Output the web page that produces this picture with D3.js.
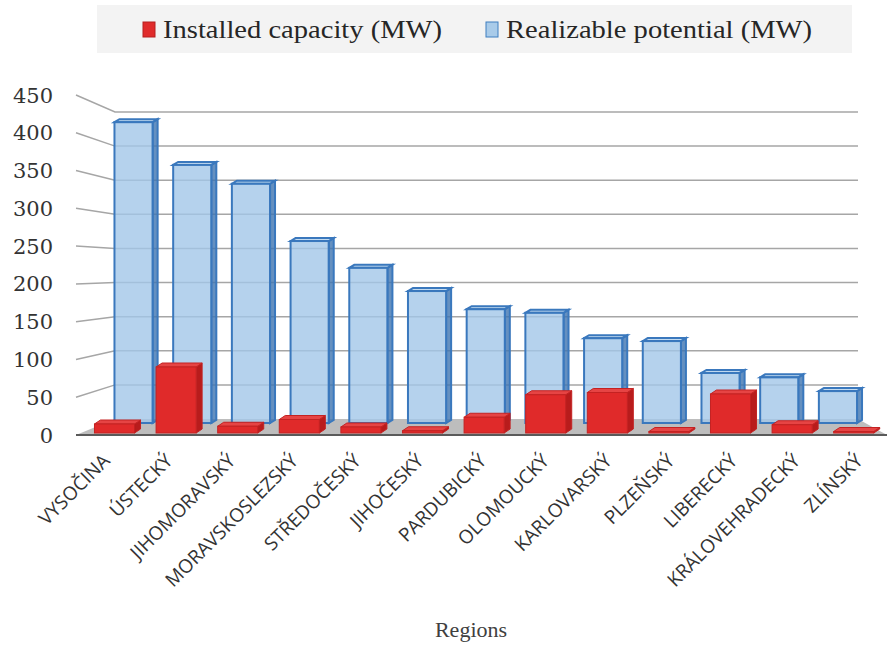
<!DOCTYPE html>
<html><head><meta charset="utf-8">
<script src="https://cdn.jsdelivr.net/npm/d3@7"></script>
<style>body{margin:0;background:#fff}svg{display:block}</style>
</head><body>
<svg id="c" width="888" height="648"></svg>
<script>
const categories = ["VYSOČINA","ÚSTECKÝ","JIHOMORAVSKÝ","MORAVSKOSLEZSKÝ","STŘEDOČESKÝ","JIHOČESKÝ","PARDUBICKÝ","OLOMOUCKÝ","KARLOVARSKÝ","PLZEŇSKÝ","LIBERECKÝ","KRÁLOVEHRADECKÝ","ZLÍNSKÝ"];
const installed = [12, 88, 9, 18, 8, 3, 21, 51, 54, 2, 52, 11, 2];
const potential = [415, 356, 330, 251, 214, 182, 157, 152, 117, 113, 69, 63, 44];
const yTicks = [0, 50, 100, 150, 200, 250, 300, 350, 400, 450];
const seriesNames = ["Installed capacity (MW)", "Realizable potential (MW)"];
const axisTitle = "Regions";

const svg = d3.select("#c");
// depth planes
const yBack = d3.scaleLinear().domain([0, 450]).range([419, 112]);
const yFront = d3.scaleLinear().domain([0, 450]).range([435, 95]);
const yBlue = d3.scaleLinear().domain([0, 450]).range([423, 423 - 450 * 0.725]);
const yRed = d3.scaleLinear().domain([0, 450]).range([433, 433 - 450 * 0.75]);
const xBlue = d3.scaleBand().domain(categories).range([104.2, 867.3]).paddingInner(0.35).paddingOuter(0.175);
const xRed = d3.scaleBand().domain(categories).range([83.7, 884.5]).paddingInner(0.35).paddingOuter(0.175);
const xLab = d3.scaleBand().domain(categories).range([79.6, 895.4]);
const backL = 115, backR = 858, frontL = 76, frontR = 887;

// legend
const lg = svg.append("g");
lg.append("rect").attr("x", 97).attr("y", 5).attr("width", 755).attr("height", 48).attr("fill", "#f3f3f3");
const legendItems = [
  {name: seriesNames[0], sx: 143, tx: 163, len: 279, fill: "#e02b2b", stroke: "#b52020"},
  {name: seriesNames[1], sx: 486, tx: 506, len: 306, fill: "#a9cbe9", stroke: "#3f7fc0"}
];
legendItems.forEach(d => {
  lg.append("rect").attr("x", d.sx).attr("y", 22).attr("width", 12).attr("height", 15)
    .attr("fill", d.fill).attr("stroke", d.stroke).attr("stroke-width", 1);
  lg.append("text").attr("x", d.tx).attr("y", 38).text(d.name)
    .attr("font-family", "Liberation Serif").attr("font-size", 25).attr("fill", "#262626")
    .attr("textLength", d.len).attr("lengthAdjust", "spacingAndGlyphs");
});

// gridlines (back wall + side wall)
const grid = svg.append("g").attr("stroke", "#a6a6a6").attr("stroke-width", 1.5).attr("fill", "none");
yTicks.filter(v => v > 0).forEach(v => {
  grid.append("path").attr("d", `M${frontL},${yFront(v)}L${backL},${yBack(v)}L${backR},${yBack(v)}`);
});

// floor
svg.append("path")
  .attr("d", `M${frontL},${yFront(0)}L${frontR},${yFront(0)}L${backR},${yBack(0)}L${backL},${yBack(0)}Z`)
  .attr("fill", "#bdbdbd");

// y labels
svg.append("g").selectAll("text").data(yTicks).join("text")
  .attr("x", 53).attr("y", d => yFront(d)).attr("dy", "0.36em")
  .attr("text-anchor", "end").attr("font-family", "DejaVu Serif").attr("font-size", 21)
  .attr("fill", "#333").text(d => d);

function bar3d(g, x, w, top, base, dx, dy, c) {
  g.append("path").attr("d", `M${x + w},${top}L${x + w + dx},${top + dy}L${x + w + dx},${base + dy}L${x + w},${base}Z`)
    .attr("fill", c.side).attr("stroke", c.stroke).attr("stroke-width", c.sw).attr("fill-opacity", c.op);
  g.append("path").attr("d", `M${x},${top}L${x + dx},${top + dy}L${x + w + dx},${top + dy}L${x + w},${top}Z`)
    .attr("fill", c.top).attr("stroke", c.stroke).attr("stroke-width", c.sw).attr("fill-opacity", c.op);
  g.append("rect").attr("x", x).attr("y", top).attr("width", w).attr("height", base - top)
    .attr("fill", c.front).attr("stroke", c.stroke).attr("stroke-width", c.sw).attr("fill-opacity", c.op);
}

// blue bars
const gb = svg.append("g");
const blueStyle = {front: "#a2c7e8", side: "#3f74b0", top: "#b5d3ee", stroke: "#3a78bd", sw: 2, op: 0.8};
categories.forEach((c, i) => {
  bar3d(gb, xBlue(c), xBlue.bandwidth(), yBlue(potential[i]), yBlue(0), 5, -3, blueStyle);
});

// front axis line
svg.append("line").attr("x1", frontL).attr("x2", frontR).attr("y1", yFront(0)).attr("y2", yFront(0))
  .attr("stroke", "#5a5a5a").attr("stroke-width", 2);

// red bars
const gr = svg.append("g");
const redStyle = {front: "#e02a2a", side: "#b81c1c", top: "#e64444", stroke: "#c42222", sw: 1, op: 1};
categories.forEach((c, i) => {
  bar3d(gr, xRed(c), xRed.bandwidth(), yRed(installed[i]), yRed(0), 6, -4, redStyle);
});

// x labels
svg.append("g").selectAll("text").data(categories).join("text")
  .attr("transform", d => `translate(${xLab(d) + xLab.bandwidth() / 2},${462}) rotate(-45)`)
  .attr("text-anchor", "end").attr("font-family", "Open Sans").attr("font-size", 19)
  .attr("fill", "#333").text(d => d);

// axis title
svg.append("text").attr("x", 471).attr("y", 637).attr("text-anchor", "middle")
  .attr("font-family", "Liberation Serif").attr("font-size", 22).attr("fill", "#404040").text(axisTitle);
</script>
</body></html>
